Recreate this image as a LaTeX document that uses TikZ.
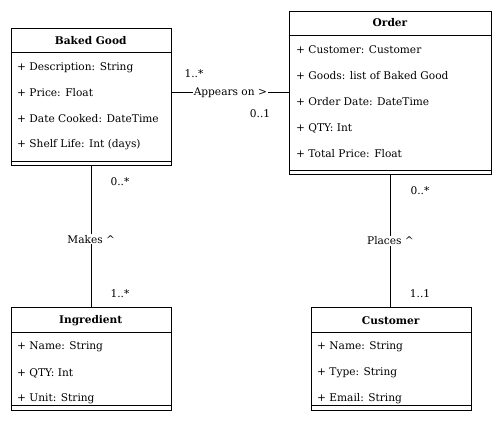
\documentclass[tikz,border=0pt]{standalone}
\usepackage{fontspec}
\setmainfont{DejaVu Serif}
\begin{document}
\begin{tikzpicture}[x=1pt,y=-1pt,
  box/.style={draw, line width=1pt, inner sep=0pt, anchor=north west},
  title/.style={font=\fontsize{10.6}{12}\selectfont\bfseries, inner sep=0pt},
  attr/.style={font=\fontsize{10.6}{12}\selectfont, anchor=west, inner sep=0pt},
  mult/.style={font=\fontsize{10.6}{12}\selectfont, inner sep=0pt},
  rel/.style={font=\fontsize{10.6}{12}\selectfont, fill=white, inner sep=1pt},
  sep/.style={line width=1pt},
  conn/.style={line width=1pt}]
\useasboundingbox (0,0) rectangle (501,430);
% Baked Good
\node[box, minimum width=160pt, minimum height=137pt] (bg) at (10.7,28) {};
\node[title] (bgt) at (90.7,41) {Baked Good};
\draw[sep] (10.7,53) coordinate (bgl1) -- (170.7,53) coordinate (bgr1);
\draw[sep] (10.7,161.7) coordinate (bgl2) -- (170.7,161.7) coordinate (bgr2);
\node[attr] (bga1) at (17,68) {+ Description: String};
\node[attr] (bga2) at (17,93) {+ Price: Float};
\node[attr] (bga3) at (17,119) {+ Date Cooked: DateTime};
\node[attr] (bga4) at (17,145) {+ Shelf Life: Int (days)};
% Order
\node[box, minimum width=202pt, minimum height=163.6pt] (ord) at (289,10.7) {};
\node[title] (ordt) at (390,23) {Order};
\draw[sep] (289,35.7) coordinate (ol1) -- (491,35.7) coordinate (or1);
\draw[sep] (289,171) coordinate (ol2) -- (491,171) coordinate (or2);
\node[attr] (oa1) at (296,50) {+ Customer: Customer};
\node[attr] (oa2) at (296,76) {+ Goods: list of Baked Good};
\node[attr] (oa3) at (296,102) {+ Order Date: DateTime};
\node[attr] (oa4) at (296,128) {+ QTY: Int};
\node[attr] (oa5) at (296,154) {+ Total Price: Float};
% Ingredient
\node[box, minimum width=160pt, minimum height=103.3pt] (ing) at (10.7,306.7) {};
\node[title] (ingt) at (90.7,321) {Ingredient};
\draw[sep] (10.7,333) coordinate (il1) -- (170.7,333) coordinate (ir1);
\draw[sep] (10.7,406) coordinate (il2) -- (170.7,406) coordinate (ir2);
\node[attr] (ia1) at (17,347) {+ Name: String};
\node[attr] (ia2) at (17,373) {+ QTY: Int};
\node[attr] (ia3) at (17,398.5) {+ Unit: String};
% Customer
\node[box, minimum width=160pt, minimum height=103.3pt] (cus) at (310.7,306.7) {};
\node[title] (cust) at (390.7,321) {Customer};
\draw[sep] (310.7,333) coordinate (cl1) -- (470.7,333) coordinate (cr1);
\draw[sep] (310.7,406) coordinate (cl2) -- (470.7,406) coordinate (cr2);
\node[attr] (ca1) at (317,347) {+ Name: String};
\node[attr] (ca2) at (317,373) {+ Type: String};
\node[attr] (ca3) at (317,398.5) {+ Email: String};
% Connectors
\draw[conn] (bg.east |- ord.west) -- node[rel] (r1) {Appears on >} (ord.west);
\draw[conn] (bg.south) -- node[rel, pos=0.52] (r2) {Makes \textasciicircum} (ing.north);
\draw[conn] (ord.south) -- node[rel, pos=0.5] (r3) {Places \textasciicircum} (ord.south |- cus.north);
% Multiplicities
\node[mult] (m1) at (194,74) {1..*};
\node[mult] (m2) at (260,114) {0..1};
\node[mult] (m3) at (120,182) {0..*};
\node[mult] (m4) at (120,294) {1..*};
\node[mult] (m5) at (420,191) {0..*};
\node[mult] (m6) at (420,294) {1..1};
\end{tikzpicture}
\end{document}
